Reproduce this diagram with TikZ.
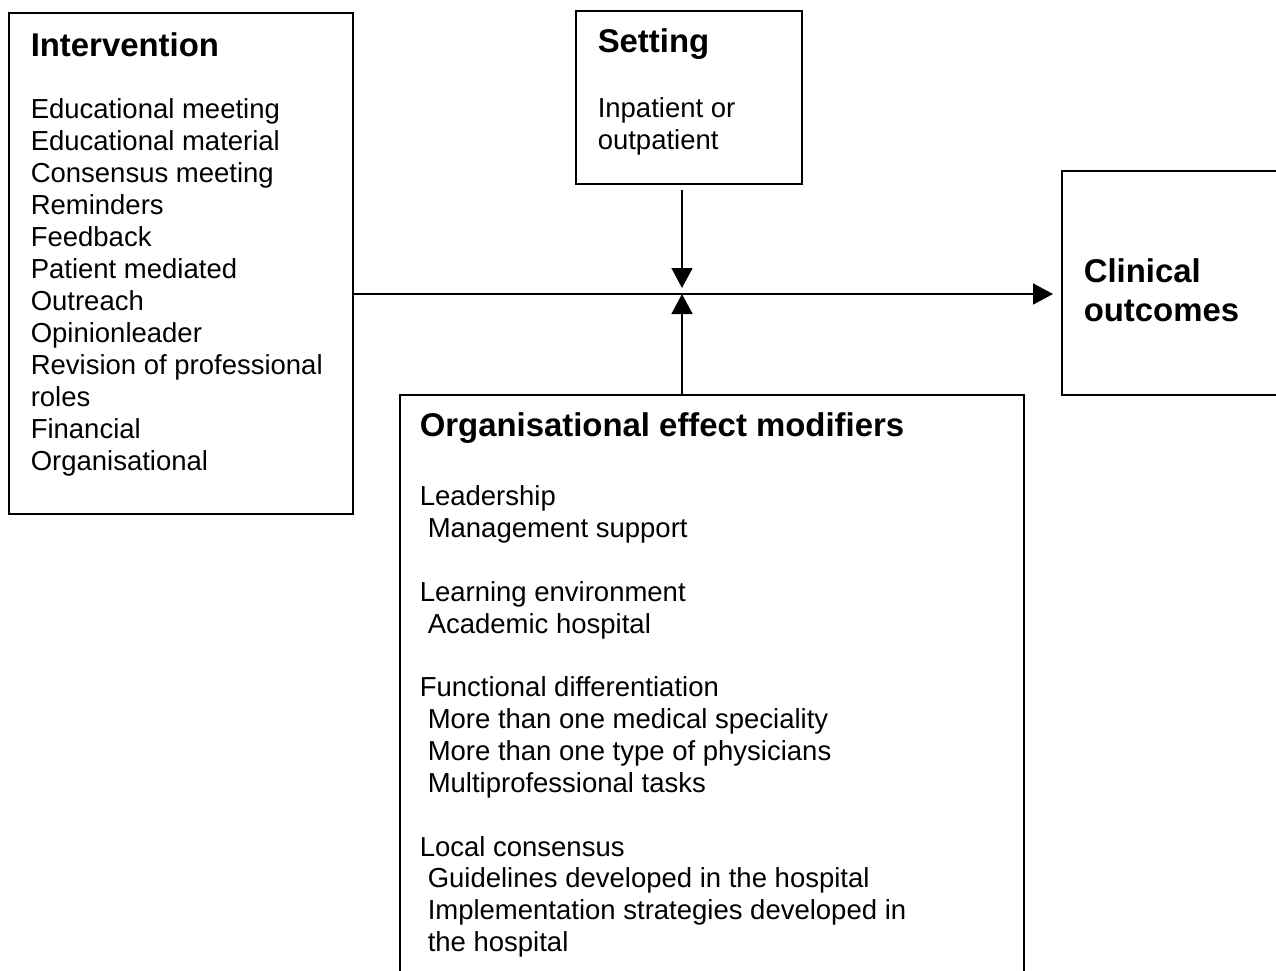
\documentclass[tikz,border=0pt]{standalone}
\usepackage{fontspec}
\setmainfont{Liberation Sans}
\usetikzlibrary{positioning, arrows.meta}
\newcommand{\bodyfont}{\fontsize{27.5}{32}\selectfont}
\newcommand{\headfont}{\fontsize{32.9}{38.5}\selectfont\bfseries}
\newcommand{\ind}{\hspace*{8pt}}

\begin{document}
\begin{tikzpicture}[x=1pt, y=-1pt, line width=1.5pt,
		box/.style={draw, rectangle, inner sep=0pt, anchor=north west},
		head/.style={anchor=north west, inner sep=0pt, align=left, font=\headfont},
		body/.style={anchor=north west, inner sep=0pt, align=left, font=\bodyfont},
		tip/.style={-{Triangle[length=20pt, width=21pt]}}]
	\useasboundingbox (0,0) rectangle (1276,970);
	\clip (0,0) rectangle (1276,970);
		% boxes
		\node[box, minimum width=344pt, minimum height=501pt] (interv) at (8,12) {};
		\node[box, minimum width=226pt, minimum height=173pt] (setting) at (575,10) {};
		\node[box, minimum width=240pt, minimum height=224pt] (clin) at (1061,170) {};
		\node[box, minimum width=624pt, minimum height=600pt] (org) at (399,394) {};
		% texts
		\node[head, below right=20pt and 22pt of interv.north west] (intervh) {Intervention};
		\node[body, below right=86pt and 22pt of interv.north west] (intervb) {Educational meeting\\
			Educational material\\ Consensus meeting\\ Reminders\\ Feedback\\ Patient mediated\\
			Outreach\\ Opinionleader\\ Revision of professional\\ roles\\ Financial\\ Organisational};
		\node[head, below right=18pt and 22pt of setting.north west] (settingh) {Setting};
		\node[body, below right=87pt and 22pt of setting.north west] (settingb) {Inpatient or\\ outpatient};
		\node[head, below right=88pt and 22pt of clin.north west] (clinh) {Clinical\\ outcomes};
		\node[head, below right=18pt and 20pt of org.north west] (orgh) {Organisational effect modifiers};
		\node[body, below right=91pt and 20pt of org.north west, font=\fontsize{27.5}{31.85}\selectfont] (orgb) {Leadership\\
			\ind Management support\\[31.85pt]
			Learning environment\\ \ind Academic hospital\\[31.85pt]
			Functional differentiation\\ \ind More than one medical speciality\\
			\ind More than one type of physicians\\ \ind Multiprofessional tasks\\[31.85pt]
			Local consensus\\ \ind Guidelines developed in the hospital\\
			\ind Implementation strategies developed in\\ \ind the hospital};
		% arrows
		\coordinate (mid) at (682,294);
		\draw[tip] (interv.east |- mid) -- ([xshift=-8pt]clin.west |- mid);
		\draw[tip] ([yshift=-5pt]setting.south -| mid) -- ([yshift=6pt]mid);
		\draw[tip] (org.north -| mid) -- (mid);
\end{tikzpicture}
\end{document}
